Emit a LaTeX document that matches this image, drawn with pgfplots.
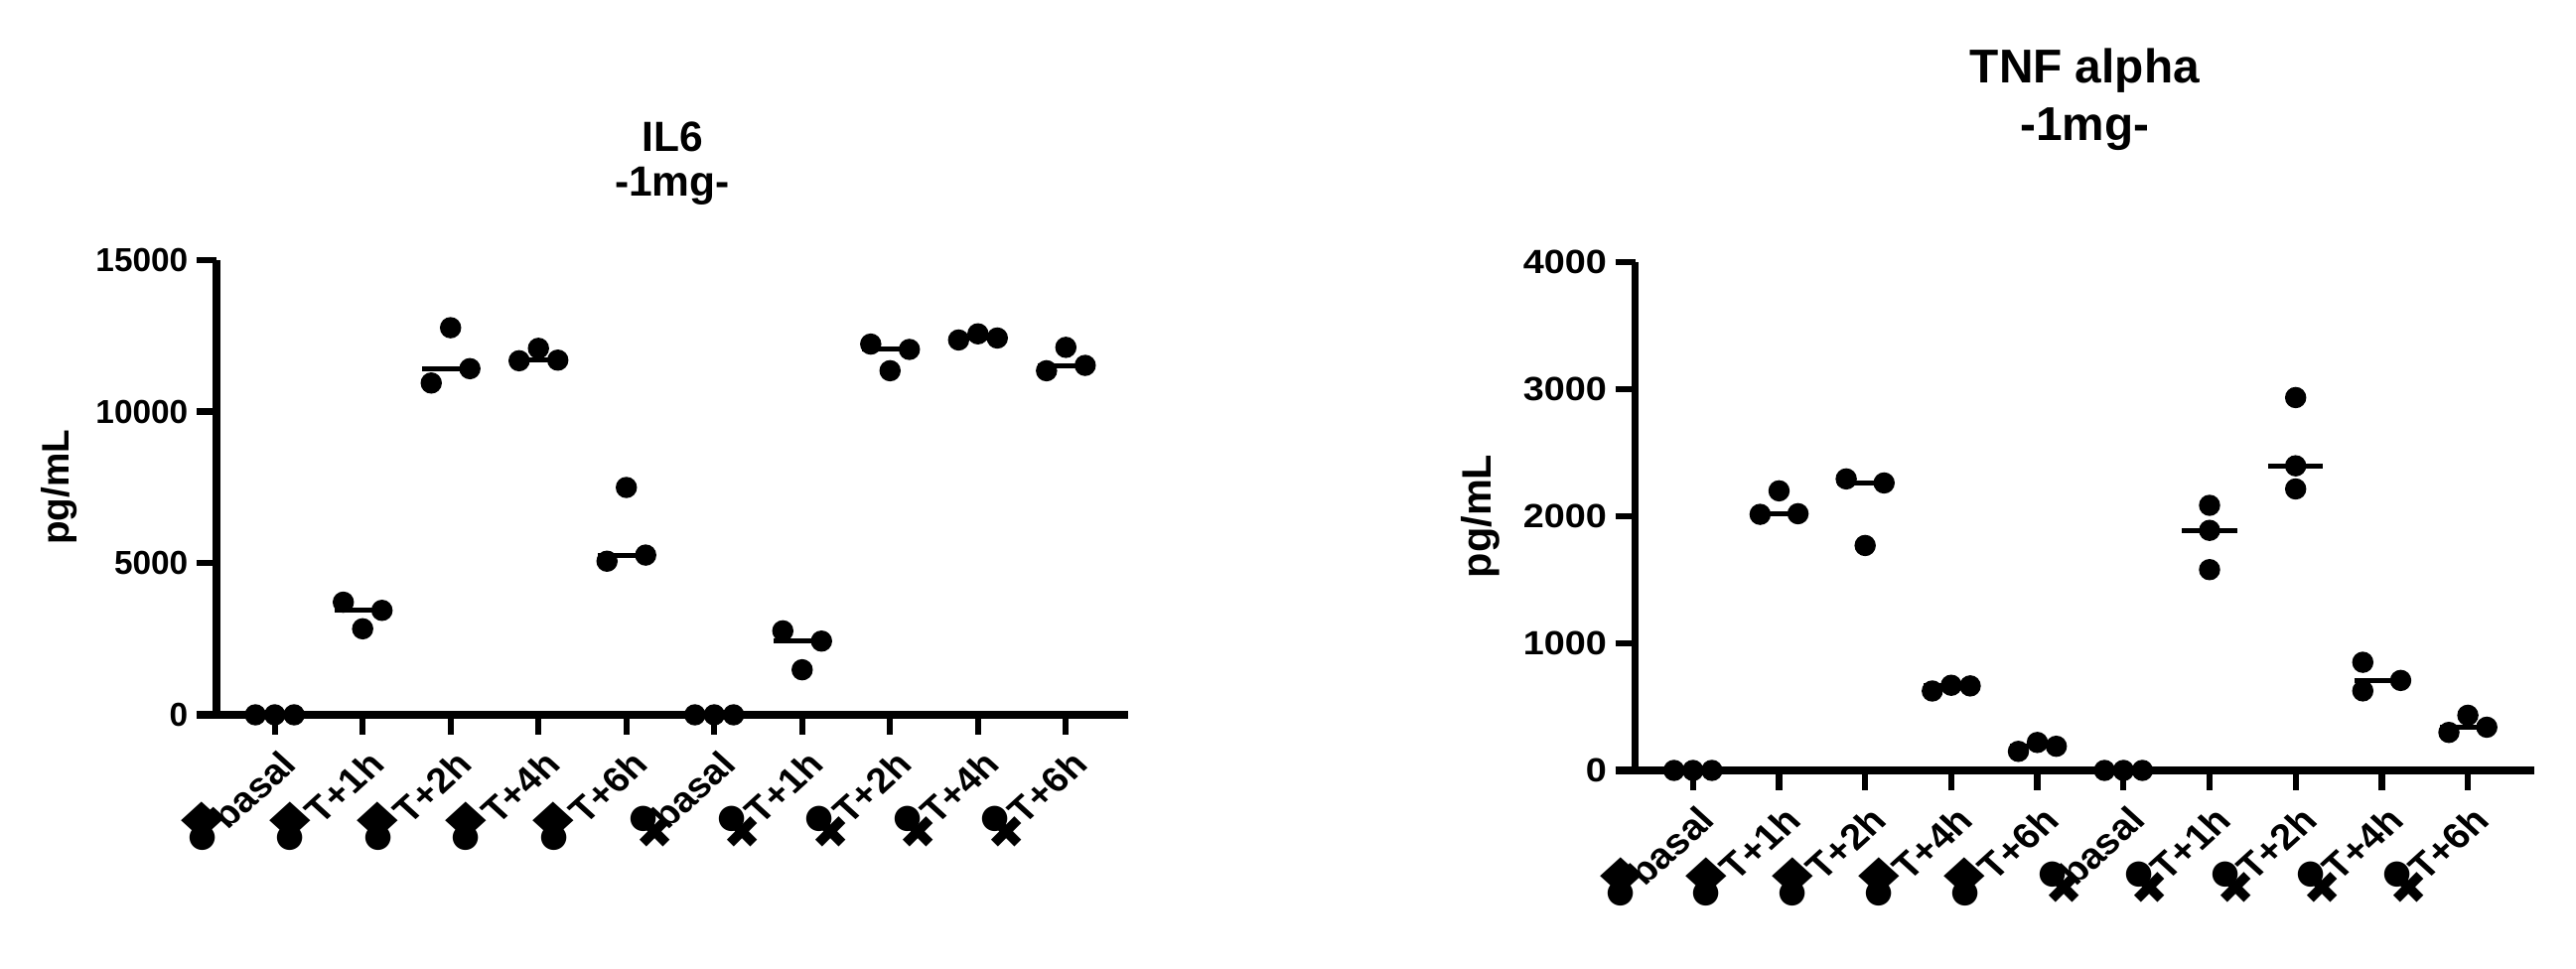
\documentclass[border=0pt]{standalone}
\usepackage{fontspec}
\setmainfont{Liberation Sans}
\newfontfamily\sym{DejaVu Sans}
\usepackage{pgfplots}
\pgfplotsset{compat=1.18}
\setlength{\unitlength}{0.01cm}

\newcommand{\lab}[2]{\begin{picture}(0,0)\put(24,-14){\makebox(0,0)[rt]{\scalebox{1.1}[1]{\rotatebox{45}{#1}}}}#2\end{picture}}
\newcommand{\sA}{\put(-73,-104){\makebox(0,0){\sym\fontsize{9.5}{10}\selectfont ●}}\put(-73,-87){\makebox(0,0){\scalebox{1.1}[1]{\sym\fontsize{14}{14}\selectfont ◆}}}}
\newcommand{\sB}{\put(-71,-85){\makebox(0,0){\sym\fontsize{9.5}{10}\selectfont ●}}\put(-60,-99){\makebox(0,0){\sym\fontsize{13}{13}\selectfont ✖}}}

\pgfplotsset{
  every axis title shift=0pt,
  gp/.style={
    scale only axis, clip=false,
    axis x line*=bottom, axis y line*=left,
    x axis line style={-, line width=2pt, shorten <=-0.2cm},
    y axis line style={-, line width=2pt},
    tick align=outside, major tick length=0.2cm,
    tick style={black, line width=1.8pt},
    xtick={0,...,9},
    xticklabels={\lab{basal}{\sA},\lab{T+1h}{\sA},\lab{T+2h}{\sA},\lab{T+4h}{\sA},\lab{T+6h}{\sA},\lab{basal}{\sB},\lab{T+1h}{\sB},\lab{T+2h}{\sB},\lab{T+4h}{\sB},\lab{T+6h}{\sB}},
    xticklabel style={anchor=center, inner sep=0pt},
    yticklabel style={anchor=east, inner sep=0pt, xshift=-0.08cm},
    scaled y ticks=false,
    /pgf/number format/assume math mode=true,
    /pgf/number format/set thousands separator={},
    ymin=0,
    ylabel={pg/mL},
  },
  dots/.style={only marks, mark=*, mark size=2.85pt, mark options={fill=black, draw=none}},
  med/.style={black, line width=1.42pt, mark=none, unbounded coords=jump},
}

\begin{document}
\begin{tikzpicture}
\path (0,0) rectangle (25.94,9.76);

% ---------------- IL6 ----------------
\begin{axis}[gp,
  at={(2.18cm,2.56cm)}, anchor=south west,
  width=9.18cm, height=4.58cm,
  xmin=-0.663, xmax=9.708, ymax=15000,
  ytick={0,5000,10000,15000},
  yticklabel style={font=\bfseries\fontsize{9.5}{11}\selectfont},
  xticklabel style={font=\bfseries\fontsize{10.1}{12}\selectfont},
  ylabel style={at={(axis description cs:-0.1623,0.5)}, anchor=base, font=\bfseries\fontsize{11}{13}\selectfont},
  title={\begin{tabular}[b]{@{}c@{}}IL6\\-1mg-\end{tabular}},
  title style={at={(axis description cs:0.5,1.1413)}, anchor=base, inner sep=0pt, font=\bfseries\fontsize{12.1}{12.69}\selectfont},
]
\addplot[dots] coordinates {
(-0.22,0) (0,0) (0.22,0)
(0.78,3716) (1,2838) (1.22,3446)
(1.78,10946) (2,12770) (2.22,11419)
(2.78,11680) (3,12090) (3.22,11700)
(3.78,5068) (4,7500) (4.22,5270)
(4.78,0) (5,0) (5.22,0)
(5.78,2770) (6,1486) (6.22,2432)
(6.78,12230) (7,11351) (7.22,12054)
(7.78,12365) (8,12568) (8.22,12430)
(8.78,11351) (9,12122) (9.22,11527)
};
\addplot[med] coordinates {
(-0.32,0) (0.32,0) (0.5,nan)
(0.68,3446) (1.32,3446) (1.5,nan)
(1.68,11419) (2.32,11419) (2.5,nan)
(2.68,11700) (3.32,11700) (3.5,nan)
(3.68,5270) (4.32,5270) (4.5,nan)
(4.68,0) (5.32,0) (5.5,nan)
(5.68,2432) (6.32,2432) (6.5,nan)
(6.68,12054) (7.32,12054) (7.5,nan)
(7.68,12430) (8.32,12430) (8.5,nan)
(8.68,11527) (9.32,11527)
};
\end{axis}

% ---------------- TNF alpha ----------------
\begin{axis}[gp,
  at={(16.466cm,2.00cm)}, anchor=south west,
  width=9.054cm, height=5.12cm,
  xmin=-0.671, xmax=9.772, ymax=4000,
  ytick={0,1000,2000,3000,4000},
  yticklabel={\scalebox{1.12}[1]{\pgfmathprintnumber{\tick}}},
  yticklabel style={font=\bfseries\fontsize{9.6}{12}\selectfont},
  xticklabel style={font=\bfseries\fontsize{10.3}{12}\selectfont},
  ylabel style={at={(axis description cs:-0.1601,0.5)}, anchor=base, font=\bfseries\fontsize{11.8}{13}\selectfont},
  title={\begin{tabular}[b]{@{}c@{}}TNF alpha\\-1mg-\end{tabular}},
  title style={at={(axis description cs:0.5,1.2389)}, anchor=base, inner sep=0pt, font=\bfseries\fontsize{13.6}{16.6}\selectfont},
]
\addplot[dots] coordinates {
(-0.22,0) (0,0) (0.22,0)
(0.78,2015) (1,2200) (1.22,2020)
(1.78,2294) (2,1770) (2.22,2262)
(2.78,625) (3,670) (3.22,665)
(3.78,150) (4,220) (4.22,190)
(4.78,0) (5,0) (5.22,0)
(6,2086) (6,1889) (6,1580)
(7,2934) (7,2397) (7,2215)
(7.78,851) (7.78,626) (8.22,708)
(8.78,299) (9,434) (9.22,340)
};
\addplot[med] coordinates {
(-0.32,0) (0.32,0) (0.5,nan)
(0.68,2020) (1.32,2020) (1.5,nan)
(1.68,2262) (2.32,2262) (2.5,nan)
(2.68,665) (3.32,665) (3.5,nan)
(3.68,190) (4.32,190) (4.5,nan)
(4.68,0) (5.32,0) (5.5,nan)
(5.68,1889) (6.32,1889) (6.5,nan)
(6.68,2397) (7.32,2397) (7.5,nan)
(7.68,708) (8.32,708) (8.5,nan)
(8.68,340) (9.32,340)
};
\end{axis}
\end{tikzpicture}
\end{document}
